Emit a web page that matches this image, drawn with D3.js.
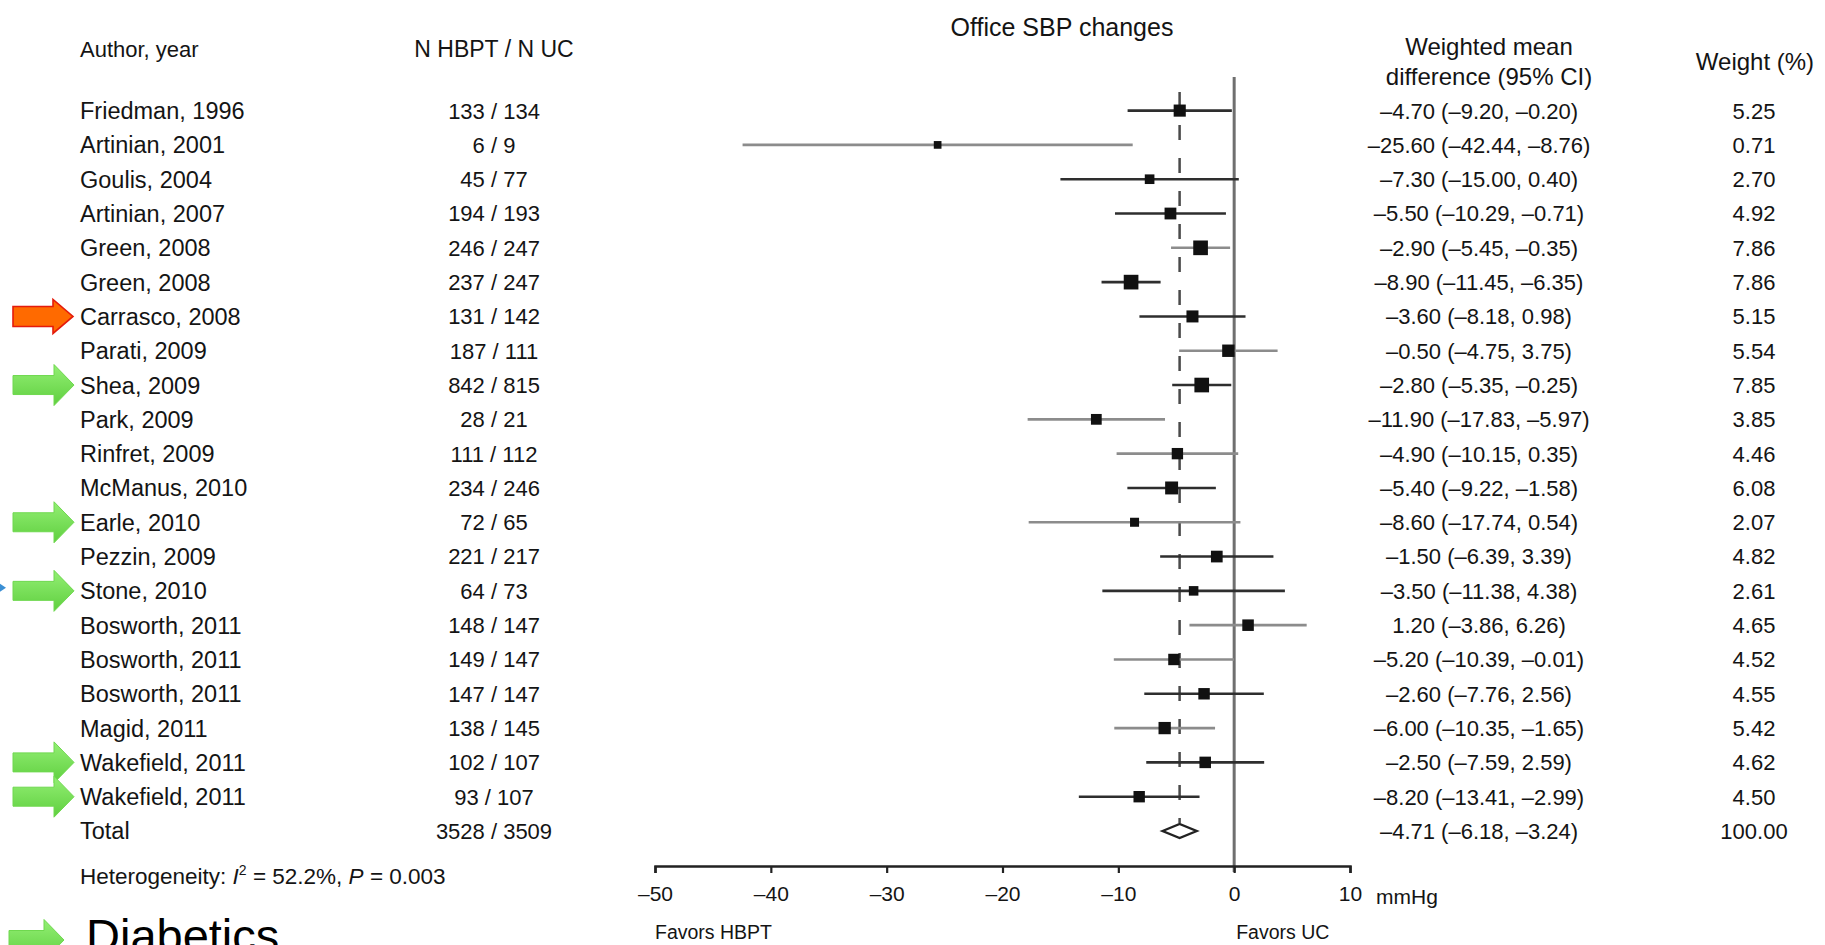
<!DOCTYPE html>
<html>
<head>
<meta charset="utf-8">
<script src="https://cdn.jsdelivr.net/npm/d3@7"></script>
<style>
  body { margin: 0; background: #fff; }
  svg text { font-family: "Liberation Sans", Arial, Helvetica, sans-serif; fill: #141414; }
</style>
</head>
<body>
<svg id="chart"></svg>
<script>
//-------------data-------------------
var authors = ["Friedman, 1996", "Artinian, 2001", "Goulis, 2004", "Artinian, 2007", "Green, 2008",
  "Green, 2008", "Carrasco, 2008", "Parati, 2009", "Shea, 2009", "Park, 2009", "Rinfret, 2009",
  "McManus, 2010", "Earle, 2010", "Pezzin, 2009", "Stone, 2010", "Bosworth, 2011", "Bosworth, 2011",
  "Bosworth, 2011", "Magid, 2011", "Wakefield, 2011", "Wakefield, 2011"];
var nHbpt = [133, 6, 45, 194, 246, 237, 131, 187, 842, 28, 111, 234, 72, 221, 64, 148, 149, 147, 138, 102, 93];
var nUc   = [134, 9, 77, 193, 247, 247, 142, 111, 815, 21, 112, 246, 65, 217, 73, 147, 147, 147, 145, 107, 107];
var wmd = [-4.70, -25.60, -7.30, -5.50, -2.90, -8.90, -3.60, -0.50, -2.80, -11.90, -4.90,
  -5.40, -8.60, -1.50, -3.50, 1.20, -5.20, -2.60, -6.00, -2.50, -8.20];
var ciLow = [-9.20, -42.44, -15.00, -10.29, -5.45, -11.45, -8.18, -4.75, -5.35, -17.83, -10.15,
  -9.22, -17.74, -6.39, -11.38, -3.86, -10.39, -7.76, -10.35, -7.59, -13.41];
var ciHigh = [-0.20, -8.76, 0.40, -0.71, -0.35, -6.35, 0.98, 3.75, -0.25, -5.97, 0.35,
  -1.58, 0.54, 3.39, 4.38, 6.26, -0.01, 2.56, -1.65, 2.59, -2.99];
var weights = [5.25, 0.71, 2.70, 4.92, 7.86, 7.86, 5.15, 5.54, 7.85, 3.85, 4.46,
  6.08, 2.07, 4.82, 2.61, 4.65, 4.52, 4.55, 5.42, 4.62, 4.50];

var total = {label: "Total", nHbpt: 3528, nUc: 3509, wmd: -4.71, lo: -6.18, hi: -3.24, weight: 100.00};
var xTicks = [-50, -40, -30, -20, -10, 0, 10];

// rows marked with arrows on the left
var orangeRows = [6];
var greenRows = [8, 12, 14, 19, 20];
var blueRows = [14];
// rows whose CI line prints lighter grey
var greyRows = [1, 4, 7, 9, 10, 12, 15, 16, 18];

//-------------layout-------------------
var width = 1825, height = 945;

var svg = d3.select("#chart")
  .attr("width", width)
  .attr("height", height);

svg.append("rect").attr("width", width).attr("height", height).attr("fill", "#fff");

var x = d3.scaleLinear().domain([-50, 10]).range([655, 1350]);
var y = d3.scaleLinear().domain([0, authors.length]).range([110.6, 831]);
var boxSize = d3.scaleLinear().domain([0, 8]).range([7, 14.8]);

var colAuthor = 80, colN = 494, colWmd = 1479, colWeight = 1754;

function fmt(v) {
  return (v < 0 ? "\u2013" : "") + Math.abs(v).toFixed(2);
}
function ciText(m, lo, hi) {
  return fmt(m) + " (" + fmt(lo) + ", " + fmt(hi) + ")";
}

var rows = authors.map(function(a, i) {
  return {i: i, author: a, n: nHbpt[i] + " / " + nUc[i], wmd: wmd[i], lo: ciLow[i], hi: ciHigh[i], w: weights[i]};
});

//-------------title + headers-------------------
svg.append("text")
  .attr("x", 1062).attr("y", 36)
  .style("text-anchor", "middle")
  .style("font-size", "25px")
  .text("Office SBP changes");

svg.append("text").attr("x", colAuthor).attr("y", 57).style("font-size", "22px").text("Author, year");
svg.append("text").attr("x", colN).attr("y", 57).style("font-size", "23px")
  .style("text-anchor", "middle").text("N HBPT / N UC");
svg.append("text").attr("x", colWmd + 10).attr("y", 55).style("font-size", "24px")
  .style("text-anchor", "middle").text("Weighted mean");
svg.append("text").attr("x", colWmd + 10).attr("y", 85).style("font-size", "24px")
  .style("text-anchor", "middle").text("difference (95% CI)");
svg.append("text").attr("x", colWeight + 1).attr("y", 70).style("font-size", "24px")
  .style("text-anchor", "middle").text("Weight (%)");

//-------------table text-------------------
var rowG = svg.append("g").selectAll("g")
  .data(rows)
  .enter()
  .append("g")
  .attr("transform", function(d) { return "translate(0," + y(d.i) + ")"; });

rowG.append("text").attr("x", colAuthor).attr("dy", "0.36em").style("font-size", "23.5px")
  .text(function(d) { return d.author; });
rowG.append("text").attr("x", colN).attr("dy", "0.36em").style("font-size", "22px")
  .style("text-anchor", "middle").text(function(d) { return d.n; });
rowG.append("text").attr("x", colWmd).attr("dy", "0.36em").style("font-size", "22px")
  .style("text-anchor", "middle").text(function(d) { return ciText(d.wmd, d.lo, d.hi); });
rowG.append("text").attr("x", colWeight).attr("dy", "0.36em").style("font-size", "22px")
  .style("text-anchor", "middle").text(function(d) { return d.w.toFixed(2); });

var totG = svg.append("g").attr("transform", "translate(0," + y(authors.length) + ")");
totG.append("text").attr("x", colAuthor).attr("dy", "0.36em").style("font-size", "23.5px").text(total.label);
totG.append("text").attr("x", colN).attr("dy", "0.36em").style("font-size", "22px")
  .style("text-anchor", "middle").text(total.nHbpt + " / " + total.nUc);
totG.append("text").attr("x", colWmd).attr("dy", "0.36em").style("font-size", "22px")
  .style("text-anchor", "middle").text(ciText(total.wmd, total.lo, total.hi));
totG.append("text").attr("x", colWeight).attr("dy", "0.36em").style("font-size", "22px")
  .style("text-anchor", "middle").text(total.weight.toFixed(2));

// heterogeneity note
var het = svg.append("text").attr("x", colAuthor).attr("y", 884).style("font-size", "22.5px");
het.append("tspan").text("Heterogeneity: ");
het.append("tspan").style("font-style", "italic").text("I");
het.append("tspan").attr("dy", -9).style("font-size", "14px").text("2");
het.append("tspan").attr("dy", 9).text(" = 52.2%, ");
het.append("tspan").style("font-style", "italic").text("P");
het.append("tspan").text(" = 0.003");

//-------------plot-------------------
var plot = svg.append("g");

// line of no effect
plot.append("line")
  .attr("x1", x(0)).attr("x2", x(0))
  .attr("y1", 77).attr("y2", 872)
  .style("stroke", "#6f6f6f")
  .style("stroke-width", 3);

// pooled estimate, dashed
plot.append("line")
  .attr("x1", x(total.wmd)).attr("x2", x(total.wmd))
  .attr("y1", 92).attr("y2", y(authors.length) - 8)
  .style("stroke", "#4a4a4a")
  .style("stroke-width", 2.5)
  .style("stroke-dasharray", "15,18");

// CI lines
plot.selectAll(".ci")
  .data(rows)
  .enter()
  .append("line")
  .attr("class", "ci")
  .attr("x1", function(d) { return x(d.lo); })
  .attr("x2", function(d) { return x(d.hi); })
  .attr("y1", function(d) { return y(d.i); })
  .attr("y2", function(d) { return y(d.i); })
  .style("stroke", function(d) { return greyRows.indexOf(d.i) >= 0 ? "#8c8c8c" : "#2e2e2e"; })
  .style("stroke-width", 2.6);

// weight boxes
plot.selectAll(".box")
  .data(rows)
  .enter()
  .append("rect")
  .attr("class", "box")
  .attr("x", function(d) { return x(d.wmd) - boxSize(d.w) / 2; })
  .attr("y", function(d) { return y(d.i) - boxSize(d.w) / 2; })
  .attr("width", function(d) { return boxSize(d.w); })
  .attr("height", function(d) { return boxSize(d.w); })
  .style("fill", "#111");

// pooled diamond
var ty = y(authors.length);
plot.append("path")
  .attr("d", "M" + x(total.lo) + "," + ty + "L" + x(total.wmd) + "," + (ty - 7) +
    "L" + x(total.hi) + "," + ty + "L" + x(total.wmd) + "," + (ty + 7) + "Z")
  .style("fill", "#fff")
  .style("stroke", "#222")
  .style("stroke-width", 2.4);

//-------------x-axis-------------------
var axisY = 866;
var axis = svg.append("g")
  .attr("transform", "translate(0," + axisY + ")")
  .call(d3.axisBottom(x)
    .tickValues(xTicks)
    .tickSize(7)
    .tickFormat(function(d) { return d < 0 ? "\u2013" + Math.abs(d) : d; }));
axis.select(".domain").attr("stroke", "#222").attr("stroke-width", 2.5);
axis.selectAll(".tick line").attr("stroke", "#222").attr("stroke-width", 2.2);
axis.selectAll(".tick text")
  .attr("y", 20)
  .style("font-size", "21px")
  .style("font-family", "'Liberation Sans', Arial, sans-serif")
  .attr("fill", "#141414");

svg.append("text").attr("x", 1376).attr("y", 904).style("font-size", "21px").text("mmHg");
svg.append("text").attr("x", x(-50)).attr("y", 939).style("font-size", "19.5px").text("Favors HBPT");
svg.append("text").attr("x", x(0) + 2).attr("y", 939).style("font-size", "19.5px").text("Favors UC");

//-------------arrows-------------------
var defs = svg.append("defs");
var grad = defs.append("linearGradient")
  .attr("id", "greenGrad")
  .attr("x1", 0).attr("y1", 0).attr("x2", 0).attr("y2", 1);
grad.append("stop").attr("offset", "0%").attr("stop-color", "#93ef74");
grad.append("stop").attr("offset", "100%").attr("stop-color", "#5fcf3f");

function arrowPath(tip, cy, len, headLen, headHalf, shaftHalf) {
  var t = tip - len, h = tip - headLen;
  return "M" + t + "," + (cy - shaftHalf) + "L" + h + "," + (cy - shaftHalf) +
    "L" + h + "," + (cy - headHalf) + "L" + tip + "," + cy +
    "L" + h + "," + (cy + headHalf) + "L" + h + "," + (cy + shaftHalf) +
    "L" + t + "," + (cy + shaftHalf) + "Z";
}

svg.append("g").selectAll("path")
  .data(greenRows)
  .enter()
  .append("path")
  .attr("d", function(i) { return arrowPath(74, y(i), 61, 20, 20.5, 9.5); })
  .style("fill", "url(#greenGrad)")
  .style("stroke", "#6fd84f")
  .style("stroke-width", 1);

svg.append("g").selectAll("path")
  .data(orangeRows)
  .enter()
  .append("path")
  .attr("d", function(i) { return arrowPath(73, y(i), 60, 20, 17, 10); })
  .style("fill", "#ff6a00")
  .style("stroke", "#e41b0c")
  .style("stroke-width", 1.6);

svg.append("g").selectAll("path")
  .data(blueRows)
  .enter()
  .append("path")
  .attr("d", function(i) { return arrowPath(6, y(i) - 3, 60, 12, 8, 4); })
  .style("fill", "#3b8fd4");

// legend at the bottom
svg.append("path")
  .attr("d", arrowPath(64, 940, 55, 20, 20.5, 9.5))
  .style("fill", "url(#greenGrad)")
  .style("stroke", "#6fd84f")
  .style("stroke-width", 1);
svg.append("text")
  .attr("x", 86).attr("y", 952)
  .style("font-size", "47px")
  .style("fill", "#000")
  .text("Diabetics");
</script>
</body>
</html>
